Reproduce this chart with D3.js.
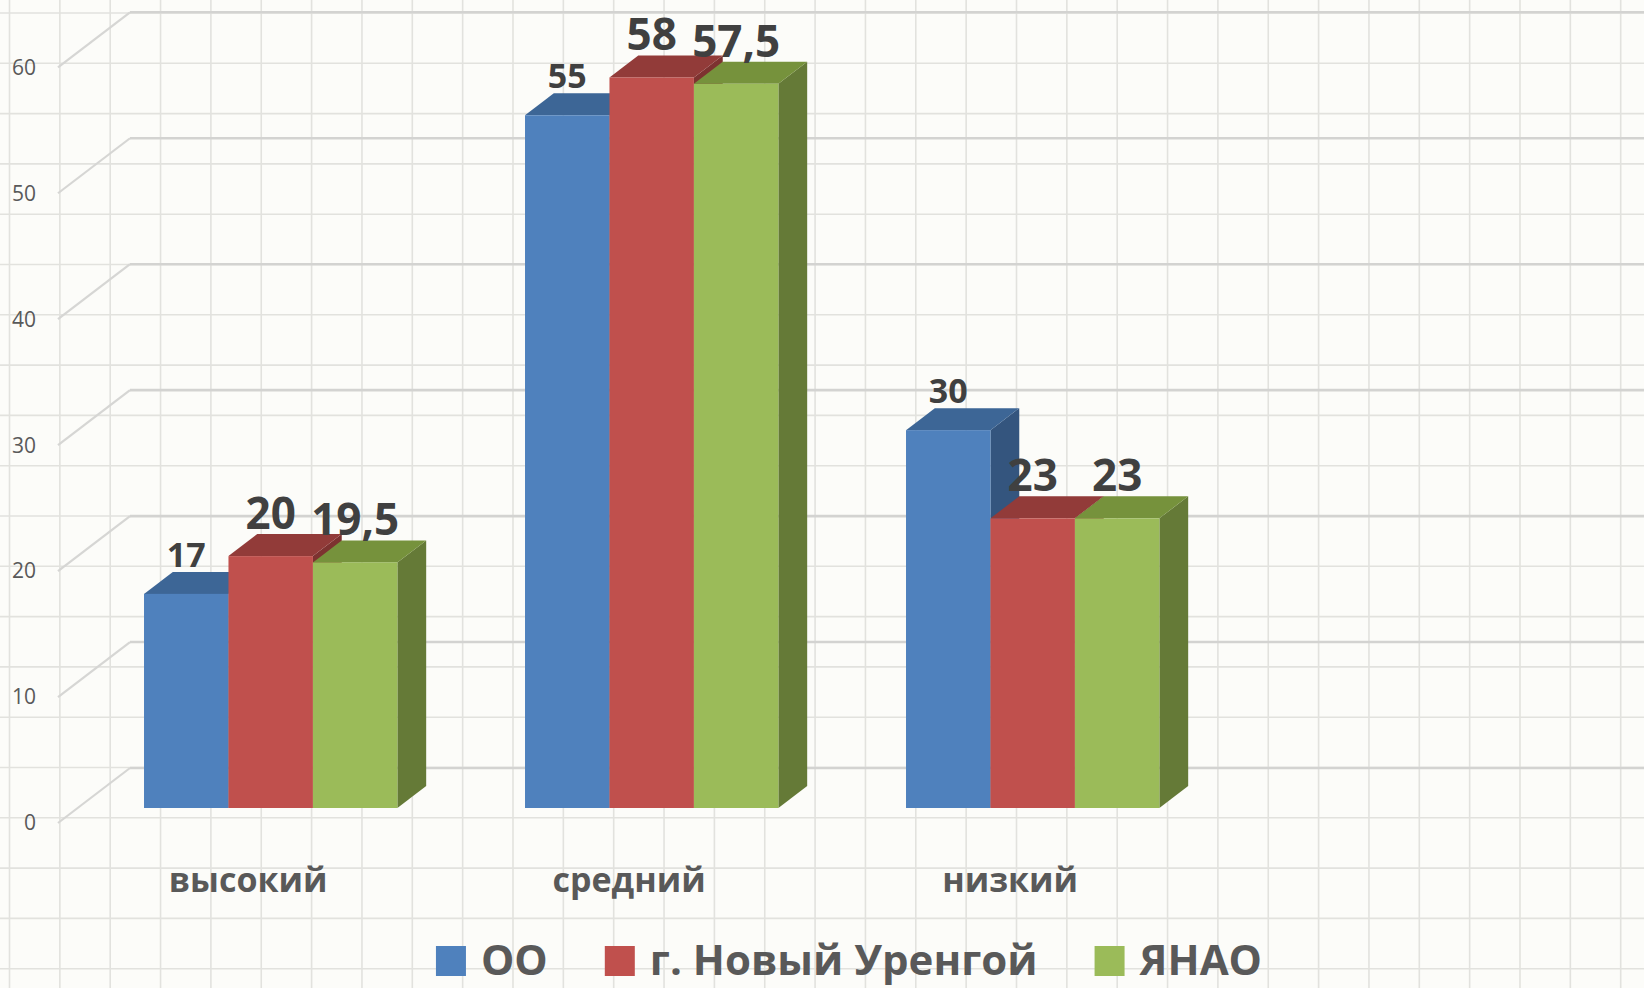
<!DOCTYPE html>
<html>
<head>
<meta charset="utf-8">
<script src="https://cdn.jsdelivr.net/npm/d3@7"></script>
<style>
  body { margin: 0; background: #fcfcf9; }
  svg { display: block; font-family: "Open Sans", "DejaVu Sans", sans-serif; }
</style>
</head>
<body>
<svg id="chart" width="1644" height="988"></svg>
<script>
// Chart data
var categories = ["высокий", "средний", "низкий"];
var seriesNames = ["ОО", "г. Новый Уренгой", "ЯНАО"];
var valuesOO = [17, 55, 30];
var valuesUrengoy = [20, 58, 23];
var valuesYanao = [19.5, 57.5, 23];
var yTicks = [0, 10, 20, 30, 40, 50, 60];

var seriesValues = [valuesOO, valuesUrengoy, valuesYanao];

//Colors for front, top and side faces of each series
var frontColors = ["#4f81bd", "#c0504d", "#9bbb59"];
var topColors = ["#3d6696", "#923b39", "#76923c"];
var sideColors = ["#34557e", "#7d3230", "#657a37"];
var labelSizes = [34, 44, 44];

var width = 1644, height = 988;
var svg = d3.select("#chart");

//Background paper grid
var paper = svg.append("g");
for (var gx = 9.5; gx < width; gx += 50.35) {
    paper.append("line").attr("x1", gx).attr("x2", gx).attr("y1", 0).attr("y2", height)
        .attr("stroke", "#e2e2de").attr("stroke-width", 1.6);
}
for (var gy = 13; gy < height; gy += 50.3) {
    paper.append("line").attr("x1", 0).attr("x2", width).attr("y1", gy).attr("y2", gy)
        .attr("stroke", "#e2e2de").attr("stroke-width", 1.6);
}

//Scales on the back wall, and the 3D offsets toward the viewer
var y = d3.scaleLinear().domain([0, 60]).range([768, 12.3]);
var wallLeft = 130;
var x = d3.scaleBand().domain(categories).range([132.6, 1275.6])
    .paddingInner(0.335).paddingOuter(0.1675);
var xs = d3.scaleBand().domain(seriesNames).range([0, x.bandwidth()]);

var floorDx = -72, floorDy = 55;       // front edge of the floor
var barFront = { dx: -52.4, dy: 40 };  // bar front face
var barBack = { dx: -23.6, dy: 18 };   // bar back face

//Gridlines: back wall plus diagonal on the side wall
var grid = svg.append("g");
yTicks.forEach(function (t) {
    grid.append("line")
        .attr("x1", wallLeft).attr("x2", width)
        .attr("y1", y(t)).attr("y2", y(t))
        .attr("stroke", "#d3d3d1").attr("stroke-width", 2.6);
    grid.append("line")
        .attr("x1", wallLeft + floorDx).attr("y1", y(t) + floorDy)
        .attr("x2", wallLeft).attr("y2", y(t))
        .attr("stroke", "#d6d6d4").attr("stroke-width", 2.2);
});

//Value axis labels
svg.append("g").selectAll("text")
    .data(yTicks)
    .enter().append("text")
    .attr("x", 36)
    .attr("y", function (d) { return y(d) + floorDy; })
    .attr("dy", "0.35em")
    .attr("text-anchor", "end")
    .attr("font-size", 21)
    .attr("fill", "#595959")
    .text(function (d) { return d; });

//Bars, drawn left to right so each bar hides the side of the previous one
var bars = svg.append("g");
categories.forEach(function (cat, ci) {
    seriesNames.forEach(function (name, si) {
        var v = seriesValues[si][ci];
        var x0 = x(cat) + xs(name);
        var x1 = x0 + xs.bandwidth();
        var yv = y(v), y0 = y(0);
        var pt = function (px, py) { return px + "," + py; };

        bars.append("polygon")
            .attr("points", [
                pt(x1 + barFront.dx, yv + barFront.dy),
                pt(x1 + barBack.dx, yv + barBack.dy),
                pt(x1 + barBack.dx, y0 + barBack.dy),
                pt(x1 + barFront.dx, y0 + barFront.dy)].join(" "))
            .attr("fill", sideColors[si]);

        bars.append("polygon")
            .attr("points", [
                pt(x0 + barFront.dx, yv + barFront.dy),
                pt(x1 + barFront.dx, yv + barFront.dy),
                pt(x1 + barBack.dx, yv + barBack.dy),
                pt(x0 + barBack.dx, yv + barBack.dy)].join(" "))
            .attr("fill", topColors[si]);

        bars.append("rect")
            .attr("x", x0 + barFront.dx)
            .attr("y", yv + barFront.dy)
            .attr("width", x1 - x0)
            .attr("height", y0 - yv)
            .attr("fill", frontColors[si]);
    });
});

//Data labels
var labels = svg.append("g");
categories.forEach(function (cat, ci) {
    seriesNames.forEach(function (name, si) {
        var v = seriesValues[si][ci];
        labels.append("text")
            .attr("x", x(cat) + xs(name) + xs.bandwidth() / 2 + barFront.dx)
            .attr("y", y(v) + barBack.dy - 5)
            .attr("text-anchor", "middle")
            .attr("font-size", labelSizes[si])
            .attr("font-weight", "bold")
            .attr("fill", "#404040")
            .text(String(v).replace(".", ","));
    });
});

//Category labels on the front edge of the floor
svg.append("g").selectAll("text")
    .data(categories)
    .enter().append("text")
    .attr("x", function (d) { return x(d) + x.bandwidth() / 2 + floorDx - 3; })
    .attr("y", 891.7)
    .attr("text-anchor", "middle")
    .attr("font-size", 34)
    .attr("font-weight", "bold")
    .attr("fill", "#595959")
    .text(function (d) { return d; });

//Legend, laid out from the measured text widths and centered
var legend = svg.append("g");
var items = seriesNames.map(function (name, i) {
    var g = legend.append("g");
    g.append("rect").attr("width", 30).attr("height", 30).attr("y", 946)
        .attr("fill", frontColors[i]);
    var t = g.append("text").attr("x", 45).attr("y", 975)
        .attr("font-size", 42).attr("font-weight", "bold").attr("fill", "#595959")
        .text(name);
    return { g: g, w: 45 + t.node().getComputedTextLength() };
});
var total = d3.sum(items, function (d) { return d.w; }) + 57 * (items.length - 1);
var lx = 849 - total / 2;
items.forEach(function (it) {
    it.g.attr("transform", "translate(" + lx + ",0)");
    lx += it.w + 57;
});
</script>
</body>
</html>
